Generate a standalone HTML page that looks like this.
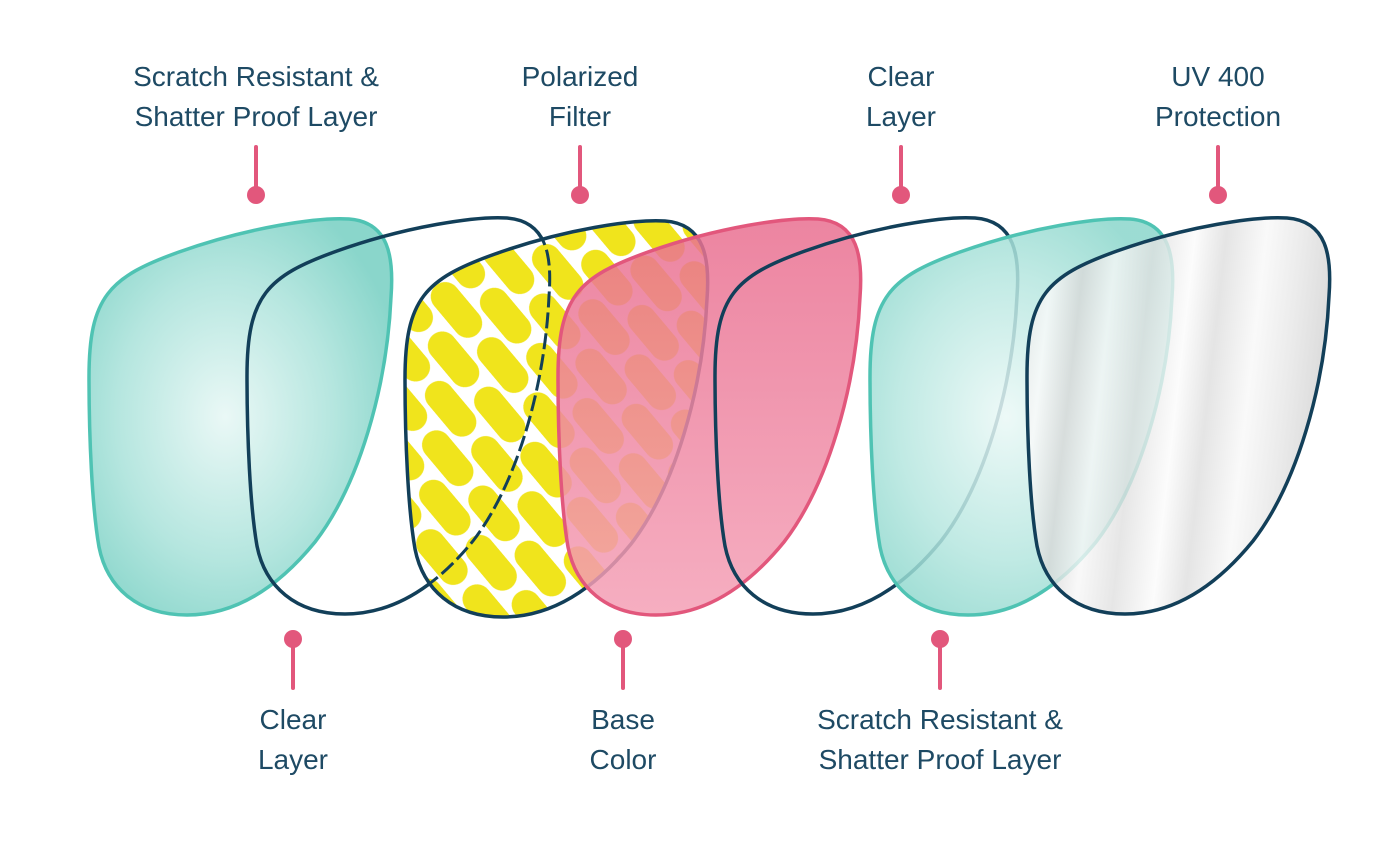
<!DOCTYPE html>
<html><head><meta charset="utf-8"><style>
html,body{margin:0;padding:0;background:#fff;}
svg{display:block}
text{font-family:"Liberation Sans",sans-serif;font-size:28px;fill:#1e4a64;text-anchor:middle}
</style></head><body>
<svg width="1382" height="844" viewBox="0 0 1382 844" xmlns="http://www.w3.org/2000/svg">
<defs>
<path id="L" d="M2,160 C2,80 22,60 92,35 C162,10 232,0 262,2 C302,5 307,40 304,80 C300,170 272,268 228,325 C188,374 145,398 100,398 C50,398 20,370 12,330 C5,290 2,220 2,160 Z"/>
<radialGradient id="tg" cx="0.45" cy="0.5" r="0.6">
<stop offset="0" stop-color="#eaf8f6"/><stop offset="0.6" stop-color="#b5e6df"/><stop offset="1" stop-color="#8ad6cb"/>
</radialGradient>
<linearGradient id="pg" x1="0" y1="0" x2="0" y2="1">
<stop offset="0" stop-color="#e96f90"/><stop offset="1" stop-color="#f4a0b6"/>
</linearGradient>
<linearGradient id="sg" x1="0" y1="0" x2="1" y2="0.15">
<stop offset="0" stop-color="#e2e2e2"/><stop offset="0.1" stop-color="#fafafa"/><stop offset="0.2" stop-color="#d8d8d8"/><stop offset="0.3" stop-color="#f7f7f7"/><stop offset="0.42" stop-color="#e0e0e0"/><stop offset="0.55" stop-color="#fbfbfb"/><stop offset="0.65" stop-color="#dedede"/><stop offset="0.78" stop-color="#f8f8f8"/><stop offset="0.9" stop-color="#e6e6e6"/><stop offset="1" stop-color="#d5d5d5"/>
</linearGradient>
<pattern id="yp" width="72" height="68" patternUnits="userSpaceOnUse" patternTransform="rotate(50)">
<rect x="0" y="3" width="64" height="29" rx="14.5" fill="#f0e41c"/>
<rect x="36" y="37" width="64" height="29" rx="14.5" fill="#f0e41c"/>
<rect x="-36" y="37" width="64" height="29" rx="14.5" fill="#f0e41c"/>
</pattern>
<clipPath id="c3"><use href="#L" transform="translate(403,219)"/></clipPath>
</defs>

<use href="#L" transform="translate(87,217)" fill="url(#tg)" stroke="#4fc3b3" stroke-width="3.5"/>
<use href="#L" transform="translate(245,216)" fill="none" stroke="#123f59" stroke-width="3.5"/>
<use href="#L" transform="translate(403,219)" fill="#fff"/>
<use href="#L" transform="translate(403,219)" fill="url(#yp)" stroke="#123f59" stroke-width="3.5"/>
<g clip-path="url(#c3)"><use href="#L" transform="translate(245,216)" fill="none" stroke="#123f59" stroke-width="3" stroke-dasharray="16 5"/></g>
<use href="#L" transform="translate(556,217)" fill="url(#pg)" fill-opacity="0.85" stroke="#e2577c" stroke-width="3.5"/>
<use href="#L" transform="translate(713,216)" fill="none" stroke="#123f59" stroke-width="3.5"/>
<use href="#L" transform="translate(868,217)" fill="url(#tg)" fill-opacity="0.85" stroke="#4fc3b3" stroke-width="3.5"/>
<use href="#L" transform="translate(1025,216)" fill="url(#sg)" fill-opacity="0.8" stroke="#123f59" stroke-width="3.5"/>

<g stroke="#e2577c" stroke-width="4" stroke-linecap="round">
<line x1="256" y1="147" x2="256" y2="192"/><line x1="580" y1="147" x2="580" y2="192"/>
<line x1="901" y1="147" x2="901" y2="192"/><line x1="1218" y1="147" x2="1218" y2="192"/>
<line x1="293" y1="642" x2="293" y2="688"/><line x1="623" y1="642" x2="623" y2="688"/>
<line x1="940" y1="642" x2="940" y2="688"/>
</g>
<g fill="#e2577c">
<circle cx="256" cy="195" r="9"/><circle cx="580" cy="195" r="9"/><circle cx="901" cy="195" r="9"/><circle cx="1218" cy="195" r="9"/>
<circle cx="293" cy="639" r="9"/><circle cx="623" cy="639" r="9"/><circle cx="940" cy="639" r="9"/>
</g>
<text x="256" y="86">Scratch Resistant &amp;</text><text x="256" y="126">Shatter Proof Layer</text>
<text x="580" y="86">Polarized</text><text x="580" y="126">Filter</text>
<text x="901" y="86">Clear</text><text x="901" y="126">Layer</text>
<text x="1218" y="86">UV 400</text><text x="1218" y="126">Protection</text>
<text x="293" y="729">Clear</text><text x="293" y="769">Layer</text>
<text x="623" y="729">Base</text><text x="623" y="769">Color</text>
<text x="940" y="729">Scratch Resistant &amp;</text><text x="940" y="769">Shatter Proof Layer</text>
</svg>
</body></html>
